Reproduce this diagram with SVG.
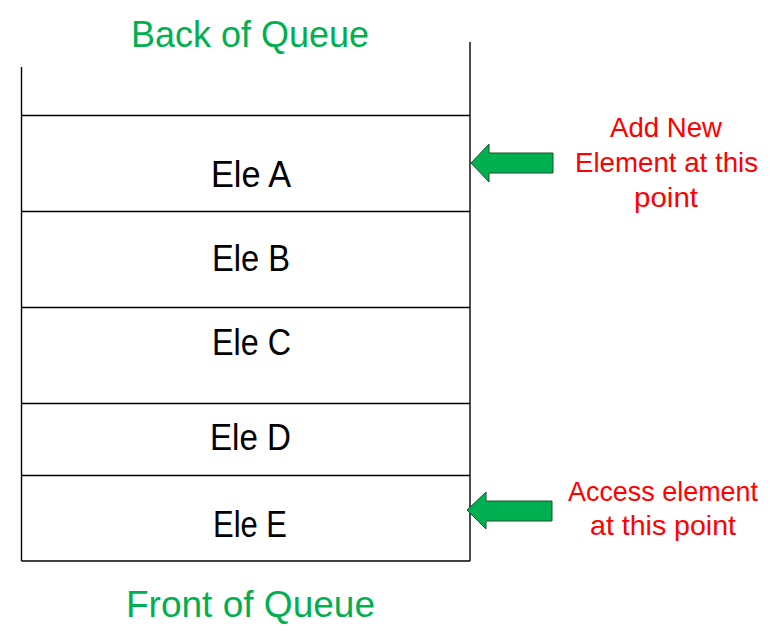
<svg xmlns="http://www.w3.org/2000/svg" width="776" height="636" viewBox="0 0 776 636">
<style>
.ln{stroke:#000;stroke-width:1.4;fill:none}
.t{font-family:"Liberation Sans",Arial,sans-serif;text-anchor:middle}
.blk{fill:#000;font-size:36px}
.grn{fill:#00b050;font-size:36px}
.red{fill:#ff0000;font-size:28px}
.arr{fill:#00b050;stroke:#1f4e2e;stroke-width:1}
</style>
<rect width="776" height="636" fill="#fff"/>
<g id="stack">
<line class="ln" x1="21.5" y1="67" x2="21.5" y2="561"/>
<line class="ln" x1="470" y1="42" x2="470" y2="561"/>
<line class="ln" x1="21.5" y1="561" x2="470" y2="561"/>
</g>
<g id="slot-empty"><line class="ln" x1="21.5" y1="115.5" x2="470" y2="115.5"/></g>
<g id="ele-a"><line class="ln" x1="21.5" y1="211.5" x2="470" y2="211.5"/><text class="t blk" x="251" y="187" textLength="80" lengthAdjust="spacingAndGlyphs">Ele A</text></g>
<g id="ele-b"><line class="ln" x1="21.5" y1="307.5" x2="470" y2="307.5"/><text class="t blk" x="251" y="271" textLength="78" lengthAdjust="spacingAndGlyphs">Ele B</text></g>
<g id="ele-c"><line class="ln" x1="21.5" y1="403.5" x2="470" y2="403.5"/><text class="t blk" x="251.5" y="355" textLength="79" lengthAdjust="spacingAndGlyphs">Ele C</text></g>
<g id="ele-d"><line class="ln" x1="21.5" y1="475.5" x2="470" y2="475.5"/><text class="t blk" x="250.5" y="450" textLength="81" lengthAdjust="spacingAndGlyphs">Ele D</text></g>
<g id="ele-e"><text class="t blk" x="250" y="537" textLength="74" lengthAdjust="spacingAndGlyphs">Ele E</text></g>
<g id="back-label"><text class="t grn" x="250" y="47" textLength="238" lengthAdjust="spacingAndGlyphs">Back of Queue</text></g>
<g id="front-label"><text class="t grn" x="250.5" y="617" textLength="249" lengthAdjust="spacingAndGlyphs">Front of Queue</text></g>
<g id="connectors">
<polygon class="arr" points="471,163 489,144 489,153 553,153 553,173 489,173 489,182"/>
<polygon class="arr" points="467,510 486,492 486,501 552,501 552,521 486,521 486,529"/>
</g>
<g id="add-note">
<text class="t red" x="666" y="137" textLength="112" lengthAdjust="spacingAndGlyphs">Add New</text>
<text class="t red" x="666.5" y="172" textLength="183" lengthAdjust="spacingAndGlyphs">Element at this</text>
<text class="t red" x="666" y="207" textLength="64" lengthAdjust="spacingAndGlyphs">point</text>
</g>
<g id="access-note">
<text class="t red" x="663" y="501" textLength="190" lengthAdjust="spacingAndGlyphs">Access element</text>
<text class="t red" x="663" y="535" textLength="146" lengthAdjust="spacingAndGlyphs">at this point</text>
</g>
</svg>
